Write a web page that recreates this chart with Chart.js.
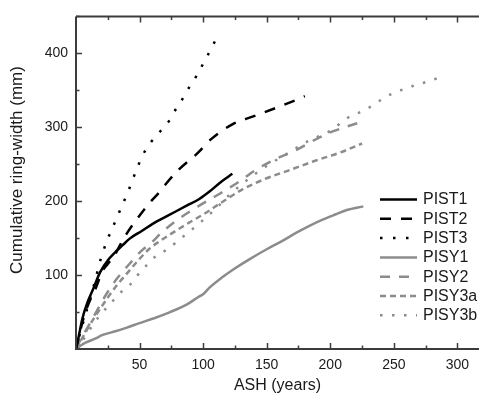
<!DOCTYPE html>
<html>
<head>
<meta charset="utf-8">
<script src="https://cdn.jsdelivr.net/npm/chart.js@4.4.1/dist/chart.umd.min.js"></script>
<style>
  body { margin: 0; background: #fff; }
  #wrap { width: 479px; height: 396px; }
</style>
</head>
<body>
<div id="wrap"><canvas id="chart1"></canvas></div>
<script>
// series: ASH (years) vs cumulative ring-width (mm)
var pist1Ash = [0, 2, 5, 9, 13, 19, 26, 32, 37, 42, 52, 60, 73, 87, 97, 105, 114, 123];
var pist1Rw  = [0, 16, 41, 63, 79, 104, 122, 133, 141, 149, 160, 169, 181, 194, 203, 213, 226, 237];

var pist2Ash = [0, 3, 6, 10, 15, 21, 25, 30, 38, 45, 52, 59, 66, 71, 81, 95, 107, 123, 140, 160, 176, 180];
var pist2Rw  = [0, 22, 42, 62, 80, 106, 115, 126, 151, 169, 185, 200, 213, 224, 243, 264, 285, 304, 315, 328, 339, 342];

var pist3Ash = [0, 3, 5, 8, 10, 13, 15.5, 18, 21, 24.5, 29, 33, 37, 41, 47, 53, 59, 66, 73, 78, 84, 89, 95, 100, 105, 111];
var pist3Rw  = [0, 20, 32, 50, 62, 80, 95, 113, 130, 147, 165, 181, 197, 213, 240, 264, 280, 294, 308, 323, 339, 354, 370, 386, 402, 422];

var pisy1Ash = [0, 4, 8, 15, 21, 31, 40, 50, 62, 74, 87, 96, 100, 105, 115, 124, 137, 150, 162, 173, 184, 194, 204, 213, 226];
var pisy1Rw  = [0, 5, 9, 14, 19, 24, 29, 35, 42, 50, 60, 70, 74, 83, 97, 108, 122, 135, 146, 157, 167, 175, 182, 188, 193];

var pisy2Ash = [0, 4, 8, 13, 21, 26, 33, 42, 51, 60, 67, 80, 96, 112, 127, 142, 157, 173, 189, 203, 215, 226];
var pisy2Rw  = [0, 14, 26, 41, 66, 80, 97, 115, 132, 145, 157, 175, 193, 209, 225, 243, 257, 269, 284, 295, 302, 308];

var pisy3aAsh = [0, 5, 10, 15, 20, 26, 33, 41, 50, 58, 66, 74, 89, 100, 116, 131, 150, 168, 187, 208, 225];
var pisy3aRw  = [0, 15, 30, 44, 57, 72, 88, 104, 122, 136, 146, 155, 171, 182, 200, 216, 231, 242, 254, 266, 278];

var pisy3bAsh = [0, 5, 9, 13, 20, 27, 34, 42, 48, 56, 63, 72, 82, 90, 99, 110, 121, 129, 138, 152, 166, 179, 190, 200, 213, 228, 238, 248, 257, 267, 277, 287];
var pisy3bRw  = [0, 11, 21, 32, 48, 61, 75, 86, 99, 114, 126, 135, 149, 160, 173, 190, 209, 221, 233, 250, 264, 278, 287, 295, 312, 324, 335, 345, 351, 357, 362, 368];

var xTickLabels = [50, 100, 150, 200, 250, 300];
var yTickLabels = [100, 200, 300, 400];

var black = '#000000';
var grey = '#8c8c8c';
var fontFam = '"Liberation Sans", Arial, sans-serif';

function pts(xs, ys) {
    return xs.map(function (x, i) { return { x: x, y: ys[i] }; });
}

function series(label, xs, ys, color, dash) {
    return {
        label: label,
        data: pts(xs, ys),
        borderColor: color,
        borderWidth: 2.5,
        borderDash: dash,
        pointRadius: 0,
        fill: false,
        cubicInterpolationMode: 'monotone'
    };
}

// inward tick marks, axis lines, top frame, y title and in-plot legend
var frame = {
    id: 'frame',
    afterDraw: function (chart) {
        var c = chart.ctx, a = chart.chartArea;
        var xs = chart.scales.x, ys = chart.scales.y;
        c.save();
        c.strokeStyle = '#3c3c3c';
        c.lineWidth = 2;
        c.beginPath();
        c.moveTo(a.left, a.top); c.lineTo(a.left, a.bottom); c.lineTo(chart.width, a.bottom);
        c.moveTo(a.left, a.top); c.lineTo(chart.width, a.top);
        c.stroke();
        c.lineWidth = 1.5;
        c.beginPath();
        xs.ticks.forEach(function (t) {
            if (t.value <= 0) return;
            var px = Math.round(xs.getPixelForValue(t.value)) + 0.5;
            var len = xTickLabels.indexOf(t.value) >= 0 ? 6 : 3.5;
            c.moveTo(px, a.bottom); c.lineTo(px, a.bottom - len);
            c.moveTo(px, a.top); c.lineTo(px, a.top + len);
        });
        ys.ticks.forEach(function (t) {
            if (t.value <= 0) return;
            var py = Math.round(ys.getPixelForValue(t.value)) + 0.5;
            var len = yTickLabels.indexOf(t.value) >= 0 ? 6 : 3.5;
            c.moveTo(a.left, py); c.lineTo(a.left + len, py);
        });
        c.stroke();

        // y axis title
        c.fillStyle = '#1a1a1a';
        c.font = '17px ' + fontFam;
        c.textAlign = 'center';
        c.textBaseline = 'middle';
        c.translate(17.5, 170);
        c.rotate(-Math.PI / 2);
        c.fillText('Cumulative ring-width (mm)', 0, 0);
        c.restore();

        // legend
        c.save();
        c.font = '16px ' + fontFam;
        c.textBaseline = 'middle';
        c.textAlign = 'left';
        chart.data.datasets.forEach(function (ds, i) {
            var y = 199.5 + i * 19.3;
            c.strokeStyle = ds.borderColor;
            c.lineWidth = ds.borderWidth;
            c.setLineDash(ds.borderDash || []);
            c.beginPath();
            c.moveTo(380, y); c.lineTo(417, y);
            c.stroke();
            c.setLineDash([]);
            c.fillStyle = '#1a1a1a';
            c.fillText(ds.label, 423, y + 0.5);
        });
        c.restore();
    }
};

var ctx = document.getElementById('chart1').getContext('2d');
var myChart = new Chart(ctx, {
    type: 'line',
    data: {
        datasets: [
            series('PIST1', pist1Ash, pist1Rw, black, []),
            series('PIST2', pist2Ash, pist2Rw, black, [11, 10]),
            series('PIST3', pist3Ash, pist3Rw, black, [2.5, 10.5]),
            series('PISY1', pisy1Ash, pisy1Rw, grey, []),
            series('PISY2', pisy2Ash, pisy2Rw, grey, [10, 9]),
            series('PISY3a', pisy3aAsh, pisy3aRw, grey, [6, 4]),
            series('PISY3b', pisy3bAsh, pisy3bRw, grey, [2.5, 9.5])
        ]
    },
    plugins: [frame],
    options: {
        responsive: true,
        maintainAspectRatio: false,
        animation: false,
        layout: { padding: { top: 14, right: 0, left: 0, bottom: 0 } },
        plugins: {
            legend: { display: false },
            tooltip: { enabled: false }
        },
        scales: {
            x: {
                type: 'linear',
                min: 0,
                max: 317,
                afterFit: function (scale) { scale.height = 47; },
                grid: { display: false, drawTicks: false },
                border: { display: false },
                ticks: {
                    stepSize: 25,
                    includeBounds: false,
                    autoSkip: false,
                    maxRotation: 0,
                    padding: 8,
                    color: '#1a1a1a',
                    font: { size: 14, family: fontFam },
                    callback: function (value) {
                        return xTickLabels.indexOf(value) >= 0 ? value : '';
                    }
                },
                title: {
                    display: true,
                    text: 'ASH (years)',
                    color: '#1a1a1a',
                    padding: 1,
                    font: { size: 16, family: fontFam }
                }
            },
            y: {
                min: 0,
                max: 450,
                afterFit: function (scale) { scale.width = 76; },
                grid: { display: false, drawTicks: false },
                border: { display: false },
                ticks: {
                    stepSize: 50,
                    autoSkip: false,
                    padding: 8,
                    color: '#1a1a1a',
                    font: { size: 14, family: fontFam },
                    callback: function (value) {
                        return yTickLabels.indexOf(value) >= 0 ? value : '';
                    }
                }
            }
        }
    }
});
</script>
</body>
</html>
